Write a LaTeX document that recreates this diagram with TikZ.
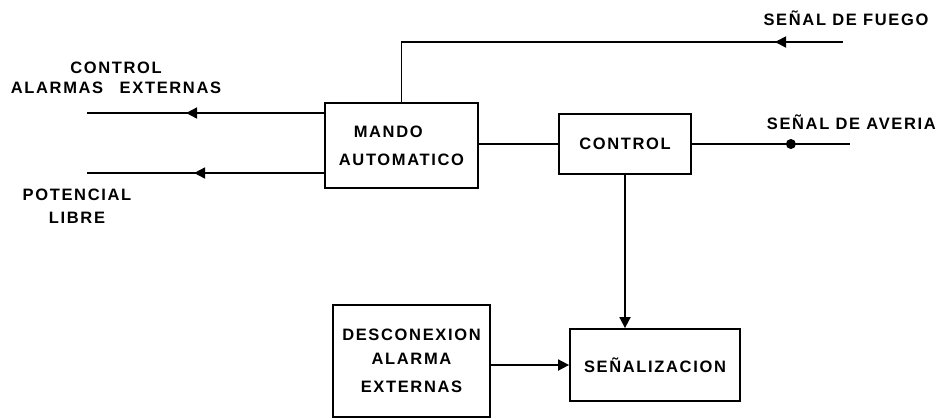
\documentclass[tikz,border=0pt]{standalone}
\usepackage{fontspec}
\setmainfont{Liberation Sans}[LetterSpace=10]
\usepackage{tikz}
\usetikzlibrary{arrows.meta,positioning,decorations.markings}

\newcommand{\lblfont}{\fontsize{16.5}{24}\selectfont\bfseries}
\tikzset{
  block/.style={draw, line width=1.8pt, inner sep=0pt, font=\lblfont, align=center},
  lbl/.style={font=\lblfont, align=center, inner sep=0pt},
  wire/.style={line width=1.8pt},
  midtip/.style={postaction={decorate},
    decoration={markings, mark=at position #1 with {\arrow{Triangle[length=11pt,width=11pt]}}}},
  middot/.style={postaction={decorate},
    decoration={markings, mark=at position #1 with {\fill (0,0) circle (5pt);}}},
}

\begin{document}
\begin{tikzpicture}[x=1pt, y=-1pt, >=Stealth]
  \useasboundingbox (0,0) rectangle (937,418);

  % Define nodes
  \node (mando) [block, minimum width=153pt, minimum height=85pt, align=left] at (401.5,145.5)
    {\hspace*{0.9em}MANDO\\[4pt]AUTOMATICO};
  \node (control) [block, minimum width=132pt, minimum height=60pt] at (625,144) {CONTROL};
  \node (senal) [block, minimum width=170pt, minimum height=72pt] at (655,365) {SEÑALIZACION};
  \node (desc) [block, minimum width=157pt, minimum height=112pt] at (411.5,361)
    {DESCONEXION\\ALARMA\\[4pt]EXTERNAS};

  % Labels
  \node (ctrllbl) [lbl] at (116,78) {CONTROL\\[-4pt]ALARMAS\quad EXTERNAS};
  \node (potlbl) [lbl] at (77,206) {POTENCIAL\\[-1pt]LIBRE};
  \node (fuegolbl) [lbl] at (846,18) {SEÑAL DE FUEGO};
  \node (averialbl) [lbl, anchor=east] at (936,122) {SEÑAL DE AVERIA};

  % Free ends
  \coordinate (fuego) at (843,42);
  \coordinate (averia) at (850,144);
  \coordinate (alarmas) at (87,113);
  \coordinate (potencial) at (87,173);

  % Draw arrows
  \draw[wire, midtip=68pt] (fuego) -| (mando.north);
  \draw[wire, midtip=138pt] (alarmas -| mando.west) -- (alarmas);
  \draw[wire, midtip=130pt] (potencial -| mando.west) -- (potencial);
  \draw[wire] (mando.east |- control.west) -- (control.west);
  \draw[wire, middot=99pt] (control.east) -- (averia);
  \draw[wire, -{Triangle[length=11pt,width=11pt]}] (control.south) -- (control.south |- senal.north);
  \draw[wire, -{Triangle[length=11pt,width=11pt]}] (desc.east |- senal.west) -- (senal.west);
\end{tikzpicture}
\end{document}
